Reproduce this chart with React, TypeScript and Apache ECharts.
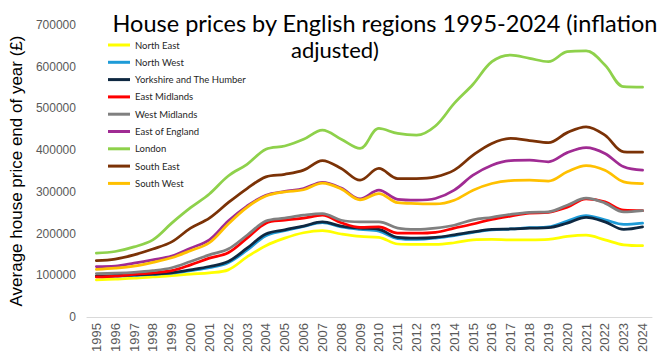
import React, { useEffect, useRef } from "react";
import * as echarts from "echarts";

const years = ["1995","1996","1997","1998","1999","2000","2001","2002","2003","2004","2005","2006","2007","2008","2009","2010","2011","2012","2013","2014","2015","2016","2017","2018","2019","2020","2021","2022","2023","2024"];

const northEast = [89000,91000,93000,96000,99000,103000,106000,113000,144000,171000,189000,202000,207000,199000,193000,191000,175000,174000,174000,178000,185000,186000,185000,185000,186000,193000,196000,185000,173000,171000];
const northWest = [97000,98000,100000,102000,105000,111000,118000,130000,160000,195000,207000,217000,226000,216000,210000,206000,188000,186000,189000,195000,203000,209000,211000,214000,216000,230000,243000,233000,222000,225000];
const yorkshire = [98000,99000,101000,103000,106000,113000,121000,133000,165000,199000,209000,218000,228000,218000,213000,210000,191000,189000,191000,197000,204000,210000,211000,213000,214000,225000,239000,228000,210000,216000];
const eastMidlands = [96000,98000,102000,106000,111000,125000,141000,154000,189000,225000,232000,237000,244000,226000,215000,216000,201000,201000,203000,213000,223000,234000,242000,249000,251000,263000,283000,276000,256000,255000];
const westMidlands = [104000,105000,107000,111000,118000,133000,149000,163000,196000,230000,237000,244000,248000,232000,228000,228000,213000,210000,213000,220000,233000,239000,246000,251000,252000,268000,285000,273000,252000,255000];
const eastOfEngland = [121000,122000,129000,137000,146000,165000,185000,230000,266000,292000,301000,308000,323000,309000,283000,304000,282000,280000,284000,304000,340000,364000,375000,376000,372000,394000,406000,392000,360000,352000];
const london = [153000,157000,168000,185000,225000,262000,295000,338000,366000,402000,410000,426000,448000,426000,404000,452000,440000,436000,458000,512000,558000,612000,628000,620000,612000,636000,638000,604000,552000,551000];
const southEast = [135000,139000,149000,163000,180000,213000,237000,274000,308000,336000,342000,352000,375000,356000,328000,356000,332000,332000,336000,352000,388000,416000,428000,423000,418000,442000,456000,436000,396000,395000];
const southWest = [114000,117000,122000,131000,142000,159000,178000,223000,263000,290000,300000,305000,321000,307000,281000,296000,274000,272000,271000,280000,304000,320000,327000,328000,326000,348000,363000,352000,324000,320000];

const seriesNames = ["North East","North West","Yorkshire and The Humber","East Midlands","West Midlands","East of England","London","South East","South West"];
const seriesData = [northEast, northWest, yorkshire, eastMidlands, westMidlands, eastOfEngland, london, southEast, southWest];
const seriesColors = ["#FFFF00","#1E9BD7","#0E2841","#FF0000","#808080","#A02B93","#8ED14B","#7B3206","#FFC000"];

const yTicks = { min: 0, max: 700000, interval: 100000 };

const titleLine1 = "House prices by English regions 1995-2024 (inflation";
const titleLine2 = "adjusted)";

export default function App() {
  const ref = useRef<HTMLDivElement>(null);
  useEffect(() => {
    document.body.style.margin = "0";
    const chart = echarts.init(ref.current!, null, { renderer: "svg" });
    const titleStyle = {
      fontFamily: "Lato",
      fontWeight: "normal",
      color: "#000000",
    };
    chart.setOption({
      animation: false,
      backgroundColor: "#ffffff",
      title: [
        {
          text: titleLine1,
          left: 380,
          top: 4,
          textAlign: "center",
          textStyle: { ...titleStyle, fontSize: 23.5, lineHeight: 27 },
        },
        {
          text: titleLine2,
          left: 330,
          top: 31,
          textAlign: "center",
          textStyle: { ...titleStyle, fontSize: 22, lineHeight: 27 },
        },
      ],
      legend: {
        orient: "vertical",
        left: 103,
        top: 34,
        itemWidth: 22,
        itemHeight: 3,
        itemGap: 5.3,
        icon: "rect",
        data: seriesNames,
        textStyle: {
          fontFamily: "Lato",
          fontSize: 9.5,
          lineHeight: 12,
          color: "#262626",
        },
      },
      grid: { left: 80, right: 7, top: 25, bottom: 47, containLabel: false },
      xAxis: {
        type: "category",
        data: years,
        boundaryGap: true,
        axisLine: { lineStyle: { color: "#D9D9D9", width: 1 } },
        axisTick: { show: false },
        axisLabel: {
          rotate: 90,
          margin: 6,
          fontFamily: "Liberation Sans",
          fontSize: 13,
          color: "#595959",
          interval: 0,
        },
      },
      yAxis: {
        type: "value",
        min: yTicks.min,
        max: yTicks.max,
        interval: yTicks.interval,
        name: "Average house price end of year (£)",
        nameLocation: "middle",
        nameGap: 57,
        nameTextStyle: {
          fontFamily: "Liberation Sans",
          fontSize: 17,
          color: "#000000",
        },
        axisLine: { show: false },
        axisTick: { show: false },
        splitLine: { show: false },
        axisLabel: {
          margin: 11,
          fontFamily: "Liberation Sans",
          fontSize: 12,
          color: "#595959",
          formatter: (v: number) => String(v),
        },
      },
      series: seriesNames.map((name, i) => ({
        name,
        type: "line",
        data: seriesData[i],
        smooth: 0.35,
        showSymbol: false,
        symbol: "none",
        color: seriesColors[i],
        lineStyle: { width: 2.75, color: seriesColors[i], cap: "round" },
      })),
    });
    return () => chart.dispose();
  }, []);
  return <div ref={ref} style={{ width: 659, height: 364 }} />;
}
